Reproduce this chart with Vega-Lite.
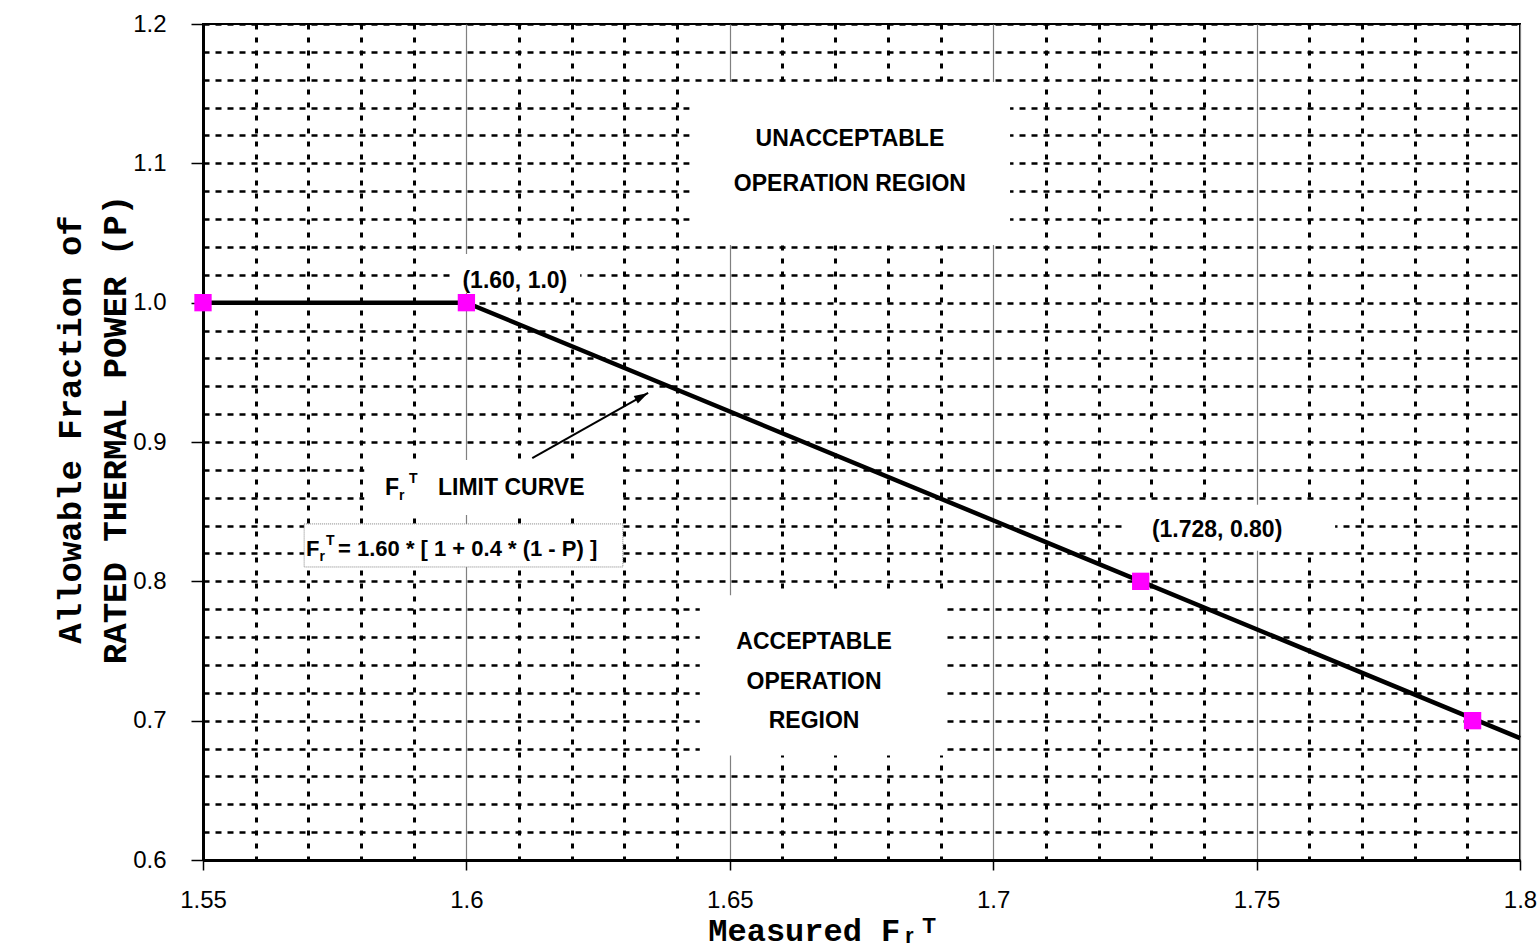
{
  "$schema": "https://vega.github.io/schema/vega-lite/v6.json",
  "width": 1317,
  "height": 836,
  "autosize": "none",
  "padding": {"left": 203, "top": 24, "right": 19, "bottom": 92},
  "background": "white",
  "config": {
    "view": {"stroke": "black", "strokeWidth": 2},
    "font": "Liberation Sans"
  },
  "data": {
    "values": [
      {"kind": "box", "x": 1.5973, "x2": 1.6216, "y": 1.0069, "y2": 1.035},
      {"kind": "box", "x": 1.6424, "x2": 1.7032, "y": 1.0414, "y2": 1.1584},
      {"kind": "box", "x": 1.6443, "x2": 1.6909, "y": 0.675, "y2": 0.79},
      {"kind": "box", "x": 1.5806, "x2": 1.6292, "y": 0.8476, "y2": 0.8871},
      {"kind": "box", "x": 1.725, "x2": 1.7649, "y": 0.822, "y2": 0.855},
      {"kind": "fbox", "x": 1.5692, "x2": 1.6297, "y": 0.8103, "y2": 0.8412},
      {"kind": "curve", "x": 1.55, "y": 1.0},
      {"kind": "curve", "x": 1.6, "y": 1.0},
      {"kind": "curve", "x": 1.8, "y": 0.6875},
      {"kind": "pt", "x": 1.55, "y": 1.0},
      {"kind": "pt", "x": 1.6, "y": 1.0},
      {"kind": "pt", "x": 1.728, "y": 0.8},
      {"kind": "pt", "x": 1.791, "y": 0.7},
      {"kind": "arrow", "x": 1.6125, "y": 0.8885},
      {"kind": "arrow", "x": 1.6345, "y": 0.9352},
      {"kind": "head", "x": 1.6345, "y": 0.9352},
      {"kind": "c", "t": "(1.60, 1.0)", "x": 1.6092, "y": 1.0105},
      {"kind": "c", "t": "UNACCEPTABLE", "x": 1.6728, "y": 1.1124},
      {"kind": "c", "t": "OPERATION REGION", "x": 1.6728, "y": 1.0801},
      {"kind": "c", "t": "ACCEPTABLE", "x": 1.666, "y": 0.7514},
      {"kind": "c", "t": "OPERATION", "x": 1.666, "y": 0.7227},
      {"kind": "c", "t": "REGION", "x": 1.666, "y": 0.6947},
      {"kind": "c", "t": "(1.728, 0.80)", "x": 1.7425, "y": 0.8318},
      {"kind": "l", "t": "F", "x": 1.58455, "y": 0.86196},
      {"kind": "l", "t": "LIMIT CURVE", "x": 1.59461, "y": 0.86196},
      {"kind": "f", "t": "F", "x": 1.56955, "y": 0.81818},
      {"kind": "f", "t": "= 1.60 * [ 1 + 0.4 * (1 - P) ]", "x": 1.57563, "y": 0.81818},
      {"kind": "s", "t": "r", "x": 1.58721, "y": 0.85837},
      {"kind": "s", "t": "T", "x": 1.58911, "y": 0.87057},
      {"kind": "s", "t": "r", "x": 1.5721, "y": 0.8146},
      {"kind": "s", "t": "T", "x": 1.57335, "y": 0.82607}
    ]
  },
  "encoding": {
    "x": {
      "field": "x",
      "type": "quantitative",
      "scale": {"domain": [1.55, 1.8], "nice": false, "zero": false},
      "axis": {
        "values": [1.55, 1.56, 1.57, 1.58, 1.59, 1.6, 1.61, 1.62, 1.63, 1.64, 1.65, 1.66, 1.67, 1.68, 1.69, 1.7, 1.71, 1.72, 1.73, 1.74, 1.75, 1.76, 1.77, 1.78, 1.79, 1.8],
        "labelExpr": "abs(datum.value*20-round(datum.value*20))<0.001 ? format(datum.value,'.2~f') : ''",
        "labelFont": "Liberation Sans",
        "labelFontSize": 24,
        "labelColor": "black",
        "labelPadding": 18,
        "labelOverlap": false,
        "labelFlush": false,
        "tickSize": 10,
        "tickColor": "black",
        "tickWidth": 1.5,
        "tickOpacity": {"condition": {"test": "abs(datum.value*20-round(datum.value*20))<0.001", "value": 1}, "value": 0},
        "grid": true,
        "gridColor": {"condition": {"test": "abs(datum.value*20-round(datum.value*20))<0.001", "value": "#808080"}, "value": "black"},
        "gridDash": {"condition": {"test": "abs(datum.value*20-round(datum.value*20))<0.001", "value": []}, "value": [5, 8]},
        "gridWidth": {"condition": {"test": "abs(datum.value*20-round(datum.value*20))<0.001", "value": 1.2}, "value": 3},
        "gridOpacity": 1,
        "domainColor": "black",
        "domainWidth": 3,
        "title": "Measured Fᵣᵀ",
        "titleFont": "Liberation Mono",
        "titleFontSize": 32,
        "titleFontWeight": "bold",
        "titleColor": "black",
        "titleX": 620,
        "titleY": 80,
        "titleBaseline": "alphabetic",
        "titleAlign": "center"
      }
    },
    "y": {
      "field": "y",
      "type": "quantitative",
      "scale": {"domain": [0.6, 1.2], "nice": false, "zero": false},
      "axis": {
        "values": [0.6, 0.62, 0.64, 0.66, 0.68, 0.7, 0.72, 0.74, 0.76, 0.78, 0.8, 0.82, 0.84, 0.86, 0.88, 0.9, 0.92, 0.94, 0.96, 0.98, 1.0, 1.02, 1.04, 1.06, 1.08, 1.1, 1.12, 1.14, 1.16, 1.18, 1.2],
        "labelExpr": "abs(datum.value*10-round(datum.value*10))<0.001 ? format(datum.value,'.1f') : ''",
        "labelFont": "Liberation Sans",
        "labelFontSize": 24,
        "labelColor": "black",
        "labelPadding": 25,
        "labelOverlap": false,
        "labelFlush": false,
        "tickSize": 12,
        "tickColor": "black",
        "tickWidth": 1.5,
        "tickOpacity": {"condition": {"test": "abs(datum.value*10-round(datum.value*10))<0.001", "value": 1}, "value": 0},
        "grid": true,
        "gridColor": "black",
        "gridDash": [6, 6],
        "gridWidth": 2.5,
        "gridOpacity": 1,
        "domainColor": "black",
        "domainWidth": 3,
        "title": ["Allowable Fraction of", "RATED THERMAL POWER (P)"],
        "titleFont": "Liberation Mono",
        "titleFontSize": 34,
        "titleFontWeight": "bold",
        "titleColor": "black",
        "titleLineHeight": 45,
        "titleX": -133,
        "titleY": 405,
        "titleAngle": 270,
        "titleAlign": "center",
        "titleBaseline": "middle"
      }
    }
  },
  "layer": [
    {
      "transform": [{"filter": "datum.kind === 'box'"}],
      "mark": {"type": "rect", "fill": "white", "stroke": null},
      "encoding": {"x2": {"field": "x2"}, "y2": {"field": "y2"}}
    },
    {
      "transform": [{"filter": "datum.kind === 'fbox'"}],
      "mark": {"type": "rect", "fill": "white", "stroke": "#808080", "strokeWidth": 1, "strokeDash": [1, 1]},
      "encoding": {"x2": {"field": "x2"}, "y2": {"field": "y2"}}
    },
    {
      "transform": [{"filter": "datum.kind === 'curve'"}],
      "mark": {"type": "line", "color": "black", "strokeWidth": 4.5},
      "encoding": {}
    },
    {
      "transform": [{"filter": "datum.kind === 'arrow'"}],
      "mark": {"type": "line", "color": "black", "strokeWidth": 2},
      "encoding": {}
    },
    {
      "transform": [{"filter": "datum.kind === 'head'"}],
      "mark": {"type": "point", "shape": "M0,0L0.6,2L-0.6,2Z", "filled": true, "color": "black", "opacity": 1, "size": 200, "angle": 61},
      "encoding": {}
    },
    {
      "transform": [{"filter": "datum.kind === 'pt'"}],
      "mark": {"type": "point", "shape": "square", "filled": true, "color": "#FF00FF", "opacity": 1, "size": 300},
      "encoding": {}
    },
    {
      "transform": [{"filter": "datum.kind === 'c'"}],
      "mark": {"type": "text", "font": "Liberation Sans", "fontWeight": "bold", "fontSize": 23, "align": "center", "baseline": "alphabetic", "color": "black"},
      "encoding": {"text": {"field": "t"}}
    },
    {
      "transform": [{"filter": "datum.kind === 'l'"}],
      "mark": {"type": "text", "font": "Liberation Sans", "fontWeight": "bold", "fontSize": 23, "align": "left", "baseline": "alphabetic", "color": "black"},
      "encoding": {"text": {"field": "t"}}
    },
    {
      "transform": [{"filter": "datum.kind === 'f'"}],
      "mark": {"type": "text", "font": "Liberation Sans", "fontWeight": "bold", "fontSize": 22, "align": "left", "baseline": "alphabetic", "color": "black"},
      "encoding": {"text": {"field": "t"}}
    },
    {
      "transform": [{"filter": "datum.kind === 's'"}],
      "mark": {"type": "text", "font": "Liberation Sans", "fontWeight": "bold", "fontSize": 14, "align": "left", "baseline": "alphabetic", "color": "black"},
      "encoding": {"text": {"field": "t"}}
    }
  ]
}
